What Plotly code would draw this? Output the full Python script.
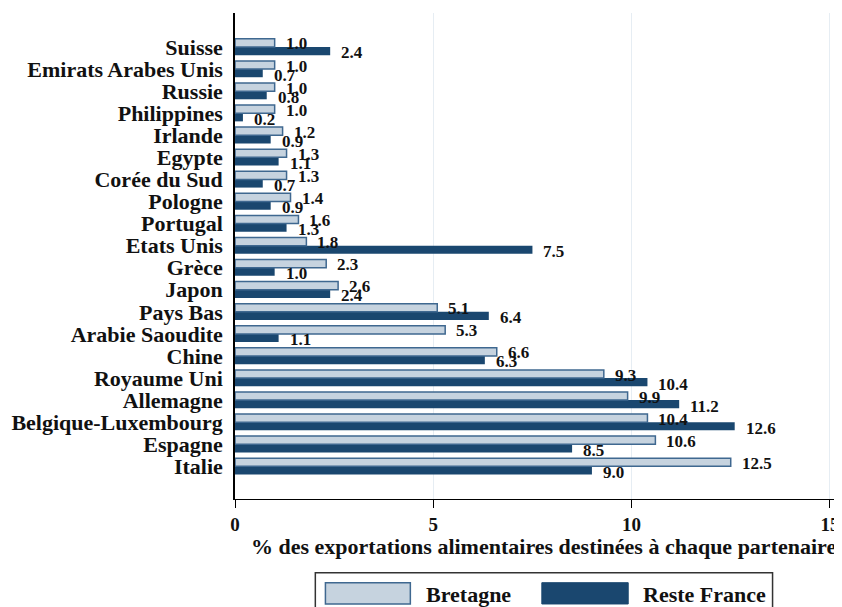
import plotly.graph_objects as go

# Data (top to bottom as displayed)
countries = ["Suisse", "Emirats Arabes Unis", "Russie", "Philippines", "Irlande",
             "Egypte", "Corée du Sud", "Pologne", "Portugal", "Etats Unis",
             "Grèce", "Japon", "Pays Bas", "Arabie Saoudite", "Chine",
             "Royaume Uni", "Allemagne", "Belgique-Luxembourg", "Espagne", "Italie"]
bretagne = [1.0, 1.0, 1.0, 1.0, 1.2, 1.3, 1.3, 1.4, 1.6, 1.8,
            2.3, 2.6, 5.1, 5.3, 6.6, 9.3, 9.9, 10.4, 10.6, 12.5]
reste_france = [2.4, 0.7, 0.8, 0.2, 0.9, 1.1, 0.7, 0.9, 1.3, 7.5,
                1.0, 2.4, 6.4, 1.1, 6.3, 10.4, 11.2, 12.6, 8.5, 9.0]
x_ticks = [0, 5, 10, 15]
x_title = "% des exportations alimentaires destinées à chaque partenaire"
series_names = ["Bretagne", "Reste France"]

FONT = "Liberation Serif"
LIGHT_FILL = "#c6d3df"
LIGHT_LINE = "#3f6890"
DARK = "#1a476f"
TXT = "#111111"

fig = go.Figure()
fig.add_trace(go.Bar(y=countries, x=reste_france, orientation="h", name=series_names[1],
                     marker=dict(color=DARK, line=dict(width=0)), showlegend=False))
fig.add_trace(go.Bar(y=countries, x=bretagne, orientation="h", name=series_names[0],
                     marker=dict(color=LIGHT_FILL, line=dict(color=LIGHT_LINE, width=1.5)),
                     showlegend=False))

lab_font = dict(family=FONT, size=17, color=TXT, weight="bold")
annotations = []
for c, b, r in zip(countries, bretagne, reste_france):
    annotations.append(dict(x=b, y=c, xref="x", yref="y", text=f"{b:.1f}", showarrow=False,
                            xanchor="left", yanchor="middle", xshift=9, yshift=3,
                            font=lab_font))
    annotations.append(dict(x=r, y=c, xref="x", yref="y", text=f"{r:.1f}", showarrow=False,
                            xanchor="left", yanchor="middle", xshift=9, yshift=-6,
                            font=lab_font))

# x-axis title
annotations.append(dict(x=0.511, y=-0.097, xref="paper", yref="paper", text=x_title,
                        showarrow=False, xanchor="center", yanchor="middle",
                        font=dict(family=FONT, size=22, color=TXT, weight="bold")))

# custom legend
shapes = [
    dict(type="rect", xref="paper", yref="paper", x0=0.133, x1=0.890, y0=-0.1516, y1=-0.25,
         line=dict(color="#333", width=1.5), fillcolor="white", layer="above"),
    dict(type="rect", xref="paper", yref="paper", x0=0.1497, x1=0.2903, y0=-0.1722, y1=-0.216,
         line=dict(color=LIGHT_LINE, width=1.5), fillcolor=LIGHT_FILL, layer="above"),
    dict(type="rect", xref="paper", yref="paper", x0=0.508, x1=0.651, y0=-0.1722, y1=-0.216,
         line=dict(color=DARK, width=1), fillcolor=DARK, layer="above"),
]
leg_font = dict(family=FONT, size=22, color=TXT, weight="bold")
annotations.append(dict(x=0.3135, y=-0.197, xref="paper", yref="paper", text=series_names[0],
                        showarrow=False, xanchor="left", yanchor="middle", font=leg_font))
annotations.append(dict(x=0.672, y=-0.197, xref="paper", yref="paper", text=series_names[1],
                        showarrow=False, xanchor="left", yanchor="middle", font=leg_font))

n = len(countries)
fig.update_layout(
    width=834, height=599,
    margin=dict(l=226.5, r=3, t=5, b=108),
    paper_bgcolor="white", plot_bgcolor="white",
    barmode="group", bargap=0.26, bargroupgap=0,
    font=dict(family=FONT, size=20, color=TXT, weight="bold"),
    xaxis=dict(range=[0, 15.23], tickmode="array", tickvals=x_ticks,
               showgrid=True, gridcolor="#e6edf3", automargin=False,
               gridwidth=1, zeroline=False, showline=True, linecolor="black", linewidth=1.2,
               ticks="outside", ticklen=8, tickcolor="black", ticklabelstandoff=0,
               tickfont=dict(family=FONT, size=19, color=TXT, weight="bold")),
    yaxis=dict(type="category", categoryorder="array", categoryarray=countries[::-1],
               tickmode="array", tickvals=countries, ticktext=countries,
               range=[-1.48, n - 1 + 1.54], showgrid=False, zeroline=False,
               automargin=False,
               showline=True, linecolor="black", linewidth=1.5, ticks="",
               ticklabelstandoff=6,
               tickfont=dict(family=FONT, size=22, color=TXT, weight="bold")),
    annotations=annotations,
    shapes=shapes,
)

fig.write_html("out.html")
